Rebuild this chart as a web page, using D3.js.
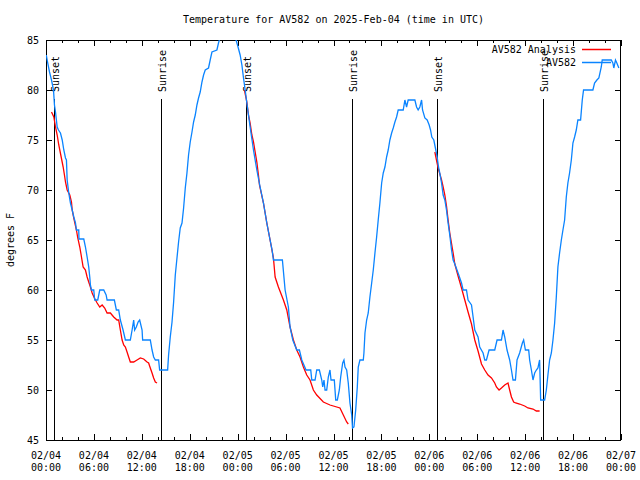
<!DOCTYPE html>
<html><head><meta charset="utf-8">
<script src="https://cdn.jsdelivr.net/npm/d3@7"></script>
<style>
body{margin:0;background:#fff}
text{font-family:"DejaVu Sans Mono","Liberation Mono",monospace;font-size:10px;fill:#000}
</style>
</head><body><svg id="c" width="640" height="480"></svg>
<script>
// ---------- data (hours after 2025-02-04 00:00 UTC, degrees F) ----------
const chartTitle = "Temperature for AV582 on 2025-Feb-04 (time in UTC)";
const yTitle = "degrees F";
const seriesNames = ["AV582 Analysis", "AV582"];
const seriesColors = ["#ff0000", "#0a84ff"];
const yTickValues = [45, 50, 55, 60, 65, 70, 75, 80, 85];
const sunHours = [0.98, 14.4, 25.03, 38.35, 48.98, 62.23];
const sunLabels = ["Sunset", "Sunrise", "Sunset", "Sunrise", "Sunset", "Sunrise"];

const obs = [[0.04,83.5],[0.19,82.8],[0.44,81.8],[0.69,81],[0.94,80],[1.06,78.5],[1.19,77.8],[1.40,76.3],[1.56,76],[1.81,75.7],[2.03,75],[2.23,74],[2.44,73.2],[2.56,73],[2.65,71],[2.85,69.7],[3.06,68.7],[3.28,68],[3.48,67.3],[3.69,66.7],[3.81,66],[4.10,66],[4.13,65.1],[4.73,65.1],[4.94,64.3],[5.15,63.3],[5.35,62.3],[5.48,61.3],[5.56,60.5],[5.69,60],[5.98,60],[6.10,59],[6.48,59],[6.73,60],[7.23,60],[7.53,59.5],[7.65,59],[8.56,59],[8.81,58],[9.10,58],[9.31,57],[9.65,56],[9.94,55],[10.56,55],[10.78,56],[10.98,57],[11.10,56],[11.31,56.3],[11.53,56.8],[11.73,57],[12.03,56],[12.10,55],[13.06,55],[13.28,54],[13.48,53.3],[13.69,53],[14.10,53],[14.23,52],[15.23,52],[15.35,53.5],[15.56,55.3],[15.78,56.8],[15.98,58.8],[16.19,61.5],[16.40,63.2],[16.60,64.8],[16.81,66.2],[17.03,66.7],[17.23,68.2],[17.44,70.2],[17.65,71.7],[17.85,73.5],[18.06,74.8],[18.28,75.8],[18.48,76.8],[18.69,77.5],[18.90,78.5],[19.10,79.2],[19.31,79.8],[19.53,80.8],[19.73,81.5],[19.94,82],[20.35,82.2],[20.56,83],[20.78,83.8],[21.40,84],[21.60,84.7],[21.81,85.3],[22.19,86],[23.31,86],[23.69,85.3],[23.98,84.5],[24.31,83.5],[24.53,82.5],[24.73,81.2],[24.94,80],[25.15,78.7],[25.56,76.3],[25.98,74],[26.40,72],[26.81,70.3],[27.23,68.7],[27.65,66.7],[28.06,65],[28.31,64],[28.48,63],[29.60,63],[29.94,60],[30.35,58.3],[30.56,56.3],[30.90,55],[31.40,54],[31.73,54],[32.03,53],[32.56,52],[33.15,52],[33.28,51],[33.69,51],[33.90,52],[34.23,52],[34.53,51],[34.65,50.3],[34.81,51],[34.94,50],[35.15,50],[35.35,51.3],[35.56,52],[35.69,51],[36.10,51],[36.28,49],[36.48,49],[36.73,50],[36.90,51.3],[37.15,52.7],[37.31,53],[37.44,52.3],[37.65,52],[37.85,50.7],[38.06,48.7],[38.28,47.5],[38.38,46.2],[38.56,46.3],[38.78,48],[38.98,50.3],[39.10,52.3],[39.31,53],[39.73,53],[39.81,53.7],[39.94,55.7],[40.15,57],[40.35,57.7],[40.56,59.3],[40.78,60.7],[40.98,62],[41.19,63.7],[41.40,65.3],[41.60,67],[41.81,68.7],[42.03,70.7],[42.23,71.7],[42.44,72.3],[42.65,73.3],[42.85,74],[43.06,75],[43.28,75.7],[43.48,76.2],[43.69,76.8],[43.90,77.3],[44.10,78],[44.73,78],[44.94,79],[45.15,78.3],[45.35,79],[46.19,79],[46.40,78.3],[46.60,78],[46.81,78.3],[47.03,79],[47.15,78],[47.44,77.2],[47.73,77],[47.98,76.5],[48.15,76],[48.31,75.3],[48.56,75],[48.81,74],[48.98,73.3],[49.15,72.3],[49.31,71.7],[49.53,70.7],[49.73,69.5],[49.94,69],[50.15,68],[50.35,66.7],[50.56,65.5],[50.78,64],[50.98,63],[51.19,62.6],[51.60,61.7],[52.03,60.7],[52.23,60],[52.65,60],[52.85,59],[53.28,58.5],[53.48,57.3],[53.69,56],[54.10,55.3],[54.31,54.3],[54.73,53.7],[54.94,53],[55.15,53],[55.48,54],[56.19,54],[56.48,55],[57.03,55],[57.23,56],[57.44,55.3],[57.73,54],[58.06,53],[58.28,52],[58.48,51],[58.78,51],[58.98,53],[59.31,53.7],[59.65,54.7],[59.81,55],[60.03,54],[60.44,54],[60.56,53],[60.78,52],[60.98,51],[61.19,51.7],[61.40,52],[61.60,52.2],[61.81,53],[61.94,49],[62.44,49],[62.65,50],[62.85,51.5],[63.06,53],[63.28,53.7],[63.48,55],[63.69,56.7],[63.90,59.3],[64.10,62.3],[64.31,63.7],[64.53,65],[64.73,66],[64.94,67],[65.15,69.3],[65.35,70.7],[65.56,71.7],[65.78,73],[65.98,74.7],[66.19,75.3],[66.40,76],[66.60,77],[66.94,77],[67.15,79],[67.31,80],[68.48,80],[68.69,80.7],[68.98,81],[69.23,81.2],[69.53,82.3],[69.65,83],[70.78,83],[70.98,82.7],[71.10,82.2],[71.31,83],[71.48,82.7],[71.73,82.2]];

const analysisNight1 = [[0.69,77.8],[0.98,77.3],[1.19,76.3],[1.40,75.5],[1.60,74.5],[1.90,73.3],[2.15,72.3],[2.31,71.5],[2.44,70.8],[2.65,70],[2.98,69.5],[3.19,68.8],[3.28,68],[3.48,67.2],[3.81,66],[3.98,65.2],[4.23,64.3],[4.40,63.5],[4.65,62.3],[4.94,62],[5.15,61.3],[5.35,60.8],[5.56,60.3],[5.78,59.7],[6.06,59.2],[6.40,58.7],[6.73,58.3],[7.03,58.5],[7.35,58.2],[7.65,57.7],[8.06,57.7],[8.48,57.3],[8.90,57],[9.10,57],[9.31,56],[9.53,55],[9.73,54.5],[9.94,54.3],[10.15,53.8],[10.35,53.3],[10.56,52.8],[10.98,52.8],[11.40,53],[11.81,53.2],[12.23,53.1],[12.65,52.8],[12.85,52.7],[13.06,52.2],[13.28,51.7],[13.48,51.2],[13.69,50.8],[13.90,50.7]];
const analysisNight2 = [[24.85,80],[25.15,78.8],[25.35,77.5],[25.56,76.7],[25.78,75.5],[25.98,74.8],[26.19,73.8],[26.40,72.8],[26.60,71.5],[26.73,70.5],[27.23,68.7],[27.65,66.7],[28.06,65],[28.48,63.2],[28.69,61.3],[29.10,60.3],[29.73,59],[30.15,58],[30.56,56.3],[30.98,55],[31.40,54],[31.81,53.3],[32.23,52.3],[32.65,51.5],[33.06,51],[33.48,50],[33.90,49.5],[34.73,48.8],[35.56,48.5],[36.81,48.2],[37.23,47.5],[37.65,46.8],[37.85,46.6]];
const analysisNight3 = [[48.69,73.8],[49.10,72.2],[49.53,71],[49.73,70.3],[49.94,69.5],[50.15,68.4],[50.35,67],[50.56,65.7],[50.98,63.7],[51.19,62.6],[51.60,61.4],[52.03,60.2],[52.44,59],[52.85,57.8],[53.28,56.6],[53.69,55],[54.10,53.9],[54.53,52.6],[54.94,52],[55.35,51.5],[55.78,51.2],[56.19,50.7],[56.40,50.3],[56.73,50],[57.03,50.2],[57.44,50.5],[57.85,50.7],[58.06,50],[58.28,49.3],[58.56,48.8],[58.81,48.7],[59.31,48.6],[59.94,48.4],[60.35,48.2],[60.98,48.1],[61.40,47.9],[61.81,47.9]];

// ---------- layout ----------
const L = 46, R = 621, T = 40, B = 440;
const t0 = Date.UTC(2025, 1, 4, 0, 0);
const t1 = Date.UTC(2025, 1, 7, 0, 0);
const toDate = h => new Date(t0 + h * 3600000);

const svg = d3.select("#c");
const x = d3.scaleUtc().domain([new Date(t0), new Date(t1)]).range([L, R]);
const y = d3.scaleLinear().domain([45, 85]).range([B, T]);

svg.append("rect").attr("width", 640).attr("height", 480).attr("fill", "#fff");

svg.append("defs").append("clipPath").attr("id", "clip")
  .append("rect").attr("x", L).attr("y", T).attr("width", R - L).attr("height", B - T);

// title
svg.append("text").attr("x", (L + R) / 2).attr("y", 23).attr("text-anchor", "middle").text(chartTitle);
// y title
svg.append("text").attr("transform", `translate(14,${(T + B) / 2}) rotate(-90)`)
  .attr("text-anchor", "middle").text(yTitle);

const g = svg.append("g").attr("shape-rendering", "crispEdges");

// y ticks
yTickValues.forEach(v => {
  const yy = Math.round(y(v)) + 0.5;
  g.append("line").attr("x1", L).attr("x2", L + 6).attr("y1", yy).attr("y2", yy).attr("stroke", "#000");
  g.append("line").attr("x1", R - 6).attr("x2", R).attr("y1", yy).attr("y2", yy).attr("stroke", "#000");
  svg.append("text").attr("x", 39).attr("y", y(v)).attr("dy", "0.35em").attr("text-anchor", "end").text(v);
});

// x ticks
const minor = d3.utcHour.every(2).range(new Date(t0), new Date(t1 + 1));
minor.forEach(d => {
  const major = d.getUTCHours() % 6 === 0;
  const len = major ? 6 : 3;
  const xx = Math.round(x(d)) + 0.5;
  g.append("line").attr("x1", xx).attr("x2", xx).attr("y1", B).attr("y2", B - len).attr("stroke", "#000");
  g.append("line").attr("x1", xx).attr("x2", xx).attr("y1", T).attr("y2", T + len).attr("stroke", "#000");
});
const majors = d3.utcHour.every(6).range(new Date(t0), new Date(t1 + 1));
const fDay = d3.utcFormat("%m/%d"), fHour = d3.utcFormat("%H:%M");
majors.forEach(d => {
  const t = svg.append("text").attr("text-anchor", "middle");
  t.append("tspan").attr("x", x(d)).attr("y", 459).text(fDay(d));
  t.append("tspan").attr("x", x(d)).attr("y", 471).text(fHour(d));
});

// sunrise / sunset markers
sunHours.forEach((h, i) => {
  const xx = Math.round(x(toDate(h))) + 0.5;
  g.append("line").attr("x1", xx).attr("x2", xx).attr("y1", 99).attr("y2", B).attr("stroke", "#000");
  svg.append("text").attr("transform", `translate(${xx + 4.5},92) rotate(-90)`).text(sunLabels[i]);
});

// series
const line = d3.line().x(d => x(toDate(d[0]))).y(d => y(d[1]));
const plot = svg.append("g").attr("clip-path", "url(#clip)");
[analysisNight1, analysisNight2, analysisNight3].forEach(s => {
  plot.append("path").attr("d", line(s)).attr("fill", "none").attr("stroke", seriesColors[0]).attr("stroke-width", 1.3);
});
plot.append("path").attr("d", line(obs)).attr("fill", "none").attr("stroke", seriesColors[1]).attr("stroke-width", 1.3);

// frame
g.append("rect").attr("x", L + 0.5).attr("y", T + 0.5).attr("width", R - L - 1).attr("height", B - T)
  .attr("fill", "none").attr("stroke", "#000");

// legend
const legY = [49.5, 62.5];
seriesNames.forEach((n, i) => {
  svg.append("text").attr("x", 576).attr("y", legY[i]).attr("dy", "0.35em").attr("text-anchor", "end").text(n);
  svg.append("line").attr("x1", 582).attr("x2", 611).attr("y1", legY[i]).attr("y2", legY[i])
    .attr("stroke", seriesColors[i]).attr("stroke-width", 1.5);
});
</script>
</body></html>
